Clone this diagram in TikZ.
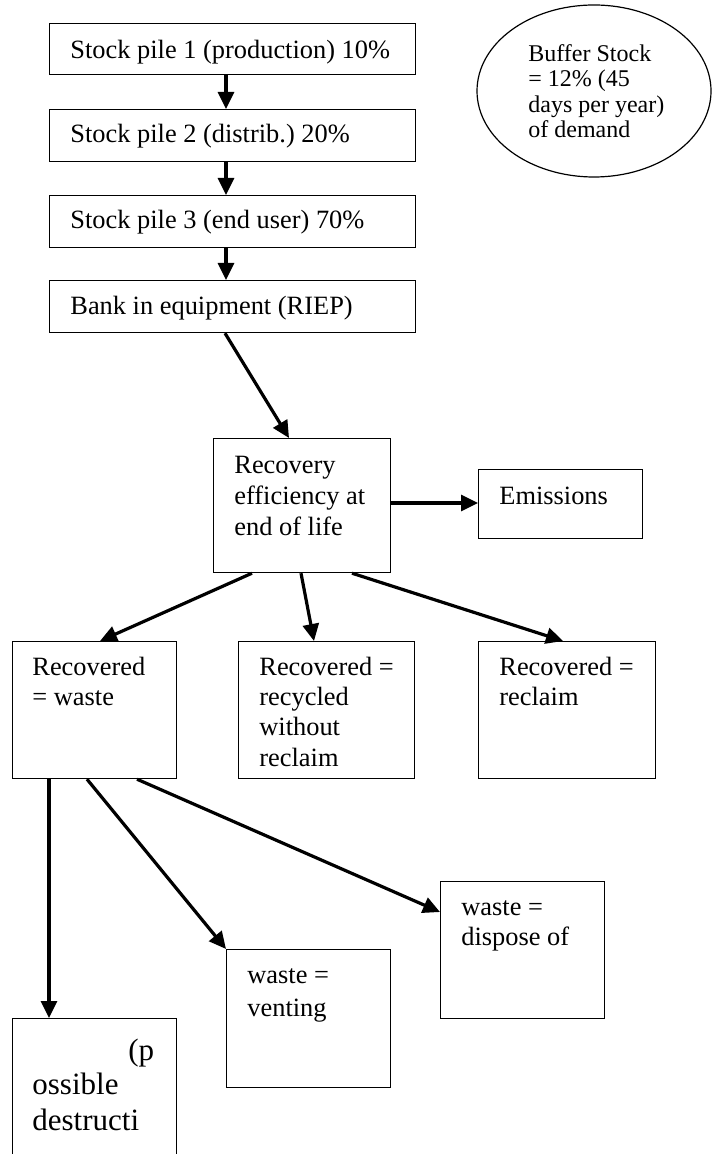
\documentclass[tikz,border=0pt]{standalone}
\usepackage{fontspec}
\setmainfont{Liberation Serif}
\usetikzlibrary{calc,arrows.meta,shapes.geometric}
\tikzset{
  box/.style={draw, line width=0.6pt, rectangle, inner sep=0pt, anchor=north west},
  oval/.style={draw, line width=0.6pt, ellipse, inner sep=0pt},
  txt/.style={anchor=base west, inner sep=0pt, font=\fontsize{13.2}{15.5}\selectfont},
  smalltxt/.style={anchor=base west, inner sep=0pt, font=\fontsize{12}{14}\selectfont},
  bigtxt/.style={anchor=base west, inner sep=0pt, font=\fontsize{15.5}{18}\selectfont},
  arr/.style={line width=1.6pt, -{Triangle[length=8.5pt,width=8pt]}}
}
\frenchspacing
\begin{document}
\begin{tikzpicture}[x=0.5pt,y=-0.5pt]
\useasboundingbox (0,0) rectangle (713,1154);
% boxes
\node[box, minimum width=183pt, minimum height=25.5pt] (b1) at (49,23) {};
\node[box, minimum width=183pt, minimum height=26pt] (b2) at (49,109) {};
\node[box, minimum width=183pt, minimum height=26pt] (b3) at (49,195) {};
\node[box, minimum width=183pt, minimum height=26pt] (b4) at (49,280) {};
\node[oval, minimum width=117pt, minimum height=86pt] (buf) at (594,91) {};
\node[box, minimum width=88.5pt, minimum height=67pt] (rec) at (213,438) {};
\node[box, minimum width=82pt, minimum height=34.5pt] (emis) at (478,469) {};
\node[box, minimum width=82pt, minimum height=68.5pt] (waste) at (12,641) {};
\node[box, minimum width=88pt, minimum height=68.5pt] (recyc) at (238,641) {};
\node[box, minimum width=88.5pt, minimum height=68.5pt] (recl) at (478,641) {};
\node[box, minimum width=82pt, minimum height=76pt] (dest) at (12,1018) {};
\node[box, minimum width=82pt, minimum height=69pt] (vent) at (226,949) {};
\node[box, minimum width=82pt, minimum height=68.5pt] (disp) at (440,881) {};
% texts
\node[txt] (t1) at (70,59) {Stock pile 1 (production) 10\%};
\node[txt] (t2) at (70,143) {Stock pile 2 (distrib.) 20\%};
\node[txt] (t3) at (70,229) {Stock pile 3 (end user) 70\%};
\node[txt] (t4) at (70,315) {Bank in equipment (RIEP)};
\node[smalltxt] (bf1) at (528,62) {Buffer Stock};
\node[smalltxt] (bf2) at (528,87) {= 12\% (45};
\node[smalltxt] (bf3) at (528,113) {days per year)};
\node[smalltxt] (bf4) at (528,138) {of demand};
\node[txt] (r1) at (234,473) {Recovery};
\node[txt] (r2) at (234,504) {efficiency at};
\node[txt] (r3) at (234,535) {end of life};
\node[txt] (e1) at (499,504) {Emissions};
\node[txt] (w1) at (32,675) {Recovered};
\node[txt] (w2) at (32,705) {= waste};
\node[txt] (c1) at (259,675) {Recovered =};
\node[txt] (c2) at (259,705) {recycled};
\node[txt] (c3) at (259,735) {without};
\node[txt] (c4) at (259,766) {reclaim};
\node[txt] (l1) at (499,675) {Recovered =};
\node[txt] (l2) at (499,705) {reclaim};
\node[txt] (v1) at (247,983) {waste =};
\node[txt] (v2) at (247,1016) {venting};
\node[txt] (d1) at (461,915) {waste =};
\node[txt] (d2) at (461,945) {dispose of};
\node[bigtxt] (p1) at (128,1060) {(p};
\node[bigtxt] (p2) at (32,1094) {ossible};
\node[bigtxt] (p3) at (32,1130) {destructi};
% connectors
\draw[arr] ($(b1.south west)+(177,0)$) -- ($(b2.north west)+(177,0)$);
\draw[arr] ($(b2.south west)+(177,0)$) -- ($(b3.north west)+(177,0)$);
\draw[arr] ($(b3.south west)+(177,0)$) -- ($(b4.north west)+(177,0)$);
\draw[arr] ($(b4.south west)+(176,0)$) -- ($(rec.north west)+(76,0)$);
\draw[arr] ($(rec.north east)+(0,65)$) -- ($(emis.north west)+(0,34)$);
\draw[arr] ($(rec.south west)+(39,0)$) -- ($(waste.north west)+(88,0)$);
\draw[arr] ($(rec.south west)+(88,0)$) -- ($(recyc.north west)+(76,0)$);
\draw[arr] ($(rec.south west)+(139,0)$) -- ($(recl.north west)+(85,0)$);
\draw[arr] ($(waste.south west)+(37,0)$) -- ($(dest.north west)+(37,0)$);
\draw[arr] ($(waste.south west)+(75,0)$) -- (vent.north west);
\draw[arr] ($(waste.south west)+(125,0)$) -- ($(disp.north west)+(0,31)$);
\end{tikzpicture}
\end{document}
